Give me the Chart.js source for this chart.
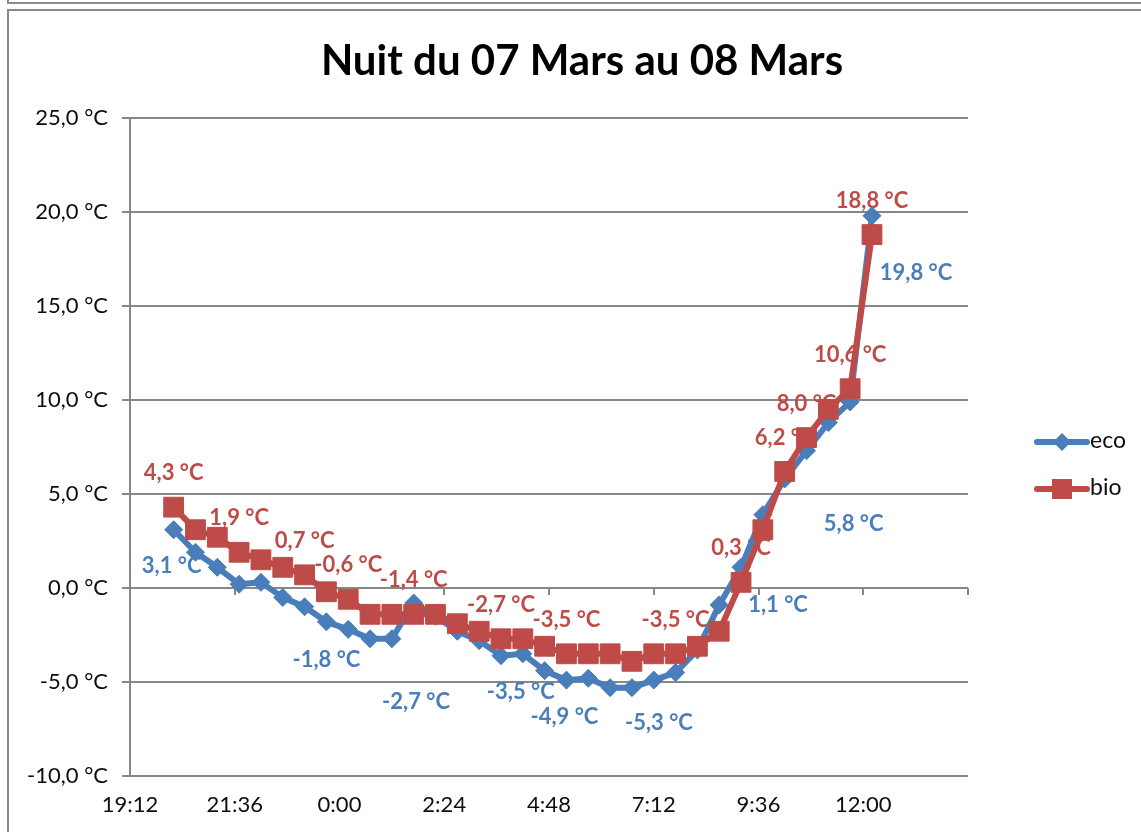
<!DOCTYPE html>
<html lang="fr">
<head>
<meta charset="utf-8">
<title>Nuit du 07 Mars au 08 Mars</title>
<script src="https://cdn.jsdelivr.net/npm/chart.js@4.4.1/dist/chart.umd.min.js"></script>
<style>
  html, body { margin: 0; padding: 0; background: #fff; }
  #wrap { width: 1141px; height: 832px; }
</style>
</head>
<body>
<div id="wrap"><canvas id="chart" width="1141" height="832"></canvas></div>
<script>
// Data (relevés toutes les 30 min)
const times = ['20:12','20:42','21:12','21:42','22:12','22:42','23:12','23:42',
  '0:12','0:42','1:12','1:42','2:12','2:42','3:12','3:42','4:12','4:42','5:12','5:42',
  '6:12','6:42','7:12','7:42','8:12','8:42','9:12','9:42','10:12','10:42','11:12','11:42','12:12'];
const eco = [3.1, 1.9, 1.1, 0.2, 0.3, -0.5, -1.0, -1.8, -2.2, -2.7, -2.7, -0.8, -1.5,
  -2.3, -2.8, -3.6, -3.5, -4.4, -4.9, -4.8, -5.3, -5.3, -4.9, -4.5, -3.3, -0.9,
  1.1, 3.9, 5.8, 7.3, 8.8, 9.9, 19.8];
const bio = [4.3, 3.1, 2.7, 1.9, 1.5, 1.1, 0.7, -0.2, -0.6, -1.4, -1.4, -1.4, -1.4,
  -1.9, -2.3, -2.7, -2.7, -3.1, -3.5, -3.5, -3.5, -3.9, -3.5, -3.5, -3.1, -2.3,
  0.3, 3.1, 6.2, 8.0, 9.5, 10.6, 18.8];
const xTickLabels = ['19:12', '21:36', '0:00', '2:24', '4:48', '7:12', '9:36', '12:00'];
const yTickLabels = ['-10,0 °C', '-5,0 °C', '0,0 °C', '5,0 °C', '10,0 °C', '15,0 °C', '20,0 °C', '25,0 °C'];

// which points carry a value label, and where the label sits
const ecoLabels = [
  { i: 0, dx: -2, dy: 36 }, { i: 7, dx: 0, dy: 38 }, { i: 9, dx: 46, dy: 63 },
  { i: 16, dx: -2, dy: 38 }, { i: 18, dx: -2, dy: 37 }, { i: 21, dx: 27, dy: 35 },
  { i: 26, dx: 37, dy: 38 }, { i: 28, dx: 69, dy: 45 }, { i: 32, dx: 44, dy: 57 }
];
const bioLabels = [0, 3, 6, 8, 11, 15, 18, 23, 26, 28, 29, 31, 32].map(i => ({ i, dx: 0, dy: -34 }));

const BLUE = '#4a7ebb';
const RED = '#be4b48';
const GRID = '#878787';
const TEXT = '#0d0d0d';
const FONT = 'Lato, "Open Sans", sans-serif';

// minutes since 0:00 of the first evening
function toMinutes(t) {
  const [h, m] = t.split(':').map(Number);
  return (h < 19 ? h + 24 : h) * 60 + m;
}
const points = arr => arr.map((v, i) => ({ x: toMinutes(times[i]), y: v }));
const fmt = v => v.toFixed(1).replace('.', ',') + ' °C';

// background, frame lines, title, labels and legend
const frame = {
  id: 'frame',
  beforeDraw(chart) {
    const ctx = chart.ctx;
    ctx.save();
    ctx.fillStyle = '#fff';
    ctx.fillRect(0, 0, chart.width, chart.height);
    ctx.strokeStyle = '#8a8a8a';
    ctx.lineWidth = 2;
    ctx.beginPath();
    ctx.moveTo(8, 0); ctx.lineTo(8, 3); ctx.lineTo(chart.width, 3);
    ctx.moveTo(chart.width, 10); ctx.lineTo(8, 10); ctx.lineTo(8, chart.height);
    ctx.stroke();
    ctx.fillStyle = '#000';
    ctx.font = 'bold 42px ' + FONT;
    ctx.textAlign = 'center';
    ctx.textBaseline = 'middle';
    ctx.fillText('Nuit du 07 Mars au 08 Mars', 582, 61);
    ctx.restore();
  },
  // x axis crosses at 0 : small tick marks there
  beforeDatasetsDraw(chart) {
    const ctx = chart.ctx;
    const xs = chart.scales.x, ys = chart.scales.y;
    const y0 = ys.getPixelForValue(0);
    ctx.save();
    ctx.strokeStyle = GRID;
    ctx.lineWidth = 2;
    ctx.beginPath();
    xs.ticks.forEach(t => {
      const px = Math.round(xs.getPixelForValue(t.value));
      ctx.moveTo(px, y0); ctx.lineTo(px, y0 + 7);
    });
    ctx.stroke();
    // value labels, drawn under the lines like in Excel
    ctx.font = 'bold 22px ' + FONT;
    ctx.textAlign = 'center';
    ctx.textBaseline = 'middle';
    [[0, ecoLabels, BLUE], [1, bioLabels, RED]].forEach(([d, labels, color]) => {
      const meta = chart.getDatasetMeta(d);
      const vals = chart.data.datasets[d].data;
      ctx.fillStyle = color;
      labels.forEach(l => {
        const el = meta.data[l.i];
        ctx.fillText(fmt(vals[l.i].y), el.x + l.dx, el.y + l.dy);
      });
    });
    ctx.restore();
  },
  afterDraw(chart) {
    const ctx = chart.ctx;
    ctx.save();
    ctx.lineCap = 'round';
    ctx.lineWidth = 6;
    ctx.font = '23px ' + FONT;
    ctx.textBaseline = 'middle';
    // eco
    ctx.strokeStyle = BLUE;
    ctx.beginPath(); ctx.moveTo(1037, 442); ctx.lineTo(1087, 442); ctx.stroke();
    ctx.fillStyle = BLUE;
    ctx.beginPath();
    ctx.moveTo(1062, 433); ctx.lineTo(1071, 442); ctx.lineTo(1062, 451); ctx.lineTo(1053, 442);
    ctx.closePath(); ctx.fill();
    // bio
    ctx.strokeStyle = RED;
    ctx.beginPath(); ctx.moveTo(1037, 489); ctx.lineTo(1087, 489); ctx.stroke();
    ctx.fillStyle = RED;
    ctx.fillRect(1052, 479, 20, 20);
    ctx.fillStyle = TEXT;
    ctx.fillText('eco', 1090, 441);
    ctx.fillText('bio', 1090, 488);
    ctx.restore();
  }
};

new Chart(document.getElementById('chart'), {
  type: 'line',
  data: {
    datasets: [
      {
        label: 'eco', data: points(eco), order: 1,
        borderColor: BLUE, backgroundColor: BLUE, borderWidth: 6,
        borderJoinStyle: 'round', borderCapStyle: 'round',
        pointStyle: 'rectRot', pointRadius: 9, pointBorderWidth: 1,
        pointBackgroundColor: BLUE, pointBorderColor: BLUE, tension: 0
      },
      {
        label: 'bio', data: points(bio), order: 0,
        borderColor: RED, backgroundColor: RED, borderWidth: 6,
        borderJoinStyle: 'round', borderCapStyle: 'round',
        pointStyle: 'rect', pointRadius: 14, pointBorderWidth: 1,
        pointBackgroundColor: RED, pointBorderColor: RED, tension: 0
      }
    ]
  },
  options: {
    responsive: false,
    animation: false,
    layout: { padding: { left: 0, right: 173, top: 118, bottom: 0 } },
    plugins: { legend: { display: false }, tooltip: { enabled: false } },
    scales: {
      x: {
        type: 'linear', min: 1152, max: 2304,
        afterFit: s => { s.height = 56; },
        grid: { display: false, drawTicks: false },
        border: { display: false },
        ticks: {
          stepSize: 144, autoSkip: false, maxRotation: 0, padding: 16,
          color: TEXT, font: { family: FONT, size: 22 },
          callback: (v, i) => xTickLabels[i] ?? ''
        }
      },
      y: {
        min: -10, max: 25,
        afterFit: s => { s.width = 130; },
        grid: { color: GRID, lineWidth: 2, tickLength: 8 },
        border: { color: GRID, width: 2 },
        ticks: {
          stepSize: 5, padding: 14,
          color: TEXT, font: { family: FONT, size: 22 },
          callback: (v, i) => yTickLabels[i]
        }
      }
    }
  },
  plugins: [frame]
});
</script>
</body>
</html>
